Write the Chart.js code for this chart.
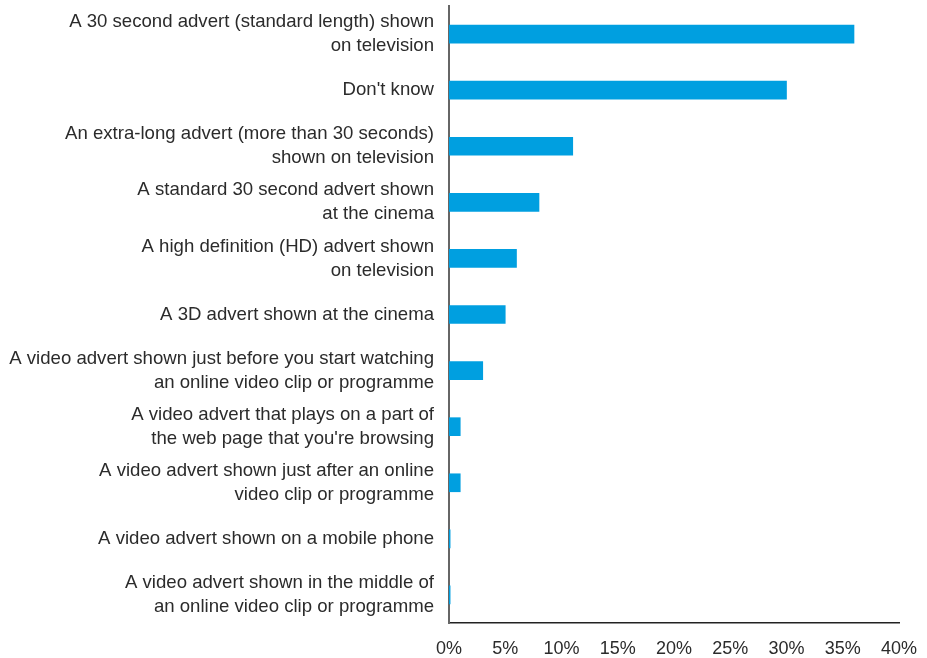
<!DOCTYPE html>
<html>
<head>
<meta charset="utf-8">
<script src="https://cdn.jsdelivr.net/npm/chart.js@4/dist/chart.umd.min.js"></script>
<style>
  html, body { margin: 0; padding: 0; background: #fff; }
  #wrap { width: 927px; height: 658px; }
</style>
</head>
<body>
<div id="wrap"><canvas id="adChart" width="927" height="658"></canvas></div>
<script>
const categories = [
    ['A 30 second advert (standard length) shown', 'on television'],
    "Don't know",
    ['An extra-long advert (more than 30 seconds)', 'shown on television'],
    ['A standard 30 second advert shown', 'at the cinema'],
    ['A high definition (HD) advert shown', 'on television'],
    'A 3D advert shown at the cinema',
    ['A video advert shown just before you start watching', 'an online video clip or programme'],
    ['A video advert that plays on a part of', "the web page that you're browsing"],
    ['A video advert shown just after an online', 'video clip or programme'],
    'A video advert shown on a mobile phone',
    ['A video advert shown in the middle of', 'an online video clip or programme']
];
const shares = [36, 30, 11, 8, 6, 5, 3, 1, 1, 0.1, 0.1];
const xTicks = [0, 5, 10, 15, 20, 25, 30, 35, 40];

const textColor = '#2b2b2b';
const family = "'Liberation Sans', Arial, Helvetica, sans-serif";

const ctx = document.getElementById('adChart').getContext('2d');
new Chart(ctx, {
    type: 'bar',
    data: {
        labels: categories,
        datasets: [{
            data: shares,
            backgroundColor: '#009fe0',
            borderWidth: 0,
            barThickness: 18
        }]
    },
    options: {
        indexAxis: 'y',
        responsive: false,
        animation: false,
        layout: { padding: { top: 6, right: 28, left: 0, bottom: 0 } },
        plugins: { legend: { display: false }, tooltip: { enabled: false } },
        scales: {
            x: {
                min: 0,
                max: 40,
                afterBuildTicks: (scale) => { scale.ticks = xTicks.map(v => ({ value: v })); },
                afterFit: (scale) => {
                    scale.height = 35;
                    scale.paddingLeft = 0;
                    scale.paddingRight = 0;
                },
                grid: { display: false, drawTicks: false },
                border: { display: true, color: '#222222', width: 1.5 },
                ticks: {
                    color: textColor,
                    font: { family: family, size: 18, lineHeight: '24px' },
                    padding: 14,
                    maxRotation: 0,
                    callback: (v) => v + '%'
                }
            },
            y: {
                afterFit: (scale) => {
                    scale.width = 449;
                    scale.paddingTop = 0;
                    scale.paddingBottom = 0;
                },
                grid: { display: false, drawTicks: false },
                border: { display: true, color: '#666666', width: 2 },
                ticks: {
                    color: textColor,
                    font: { family: family, size: 18.6, lineHeight: '24px' },
                    padding: 15,
                    autoSkip: false
                }
            }
        }
    }
});
</script>
</body>
</html>
